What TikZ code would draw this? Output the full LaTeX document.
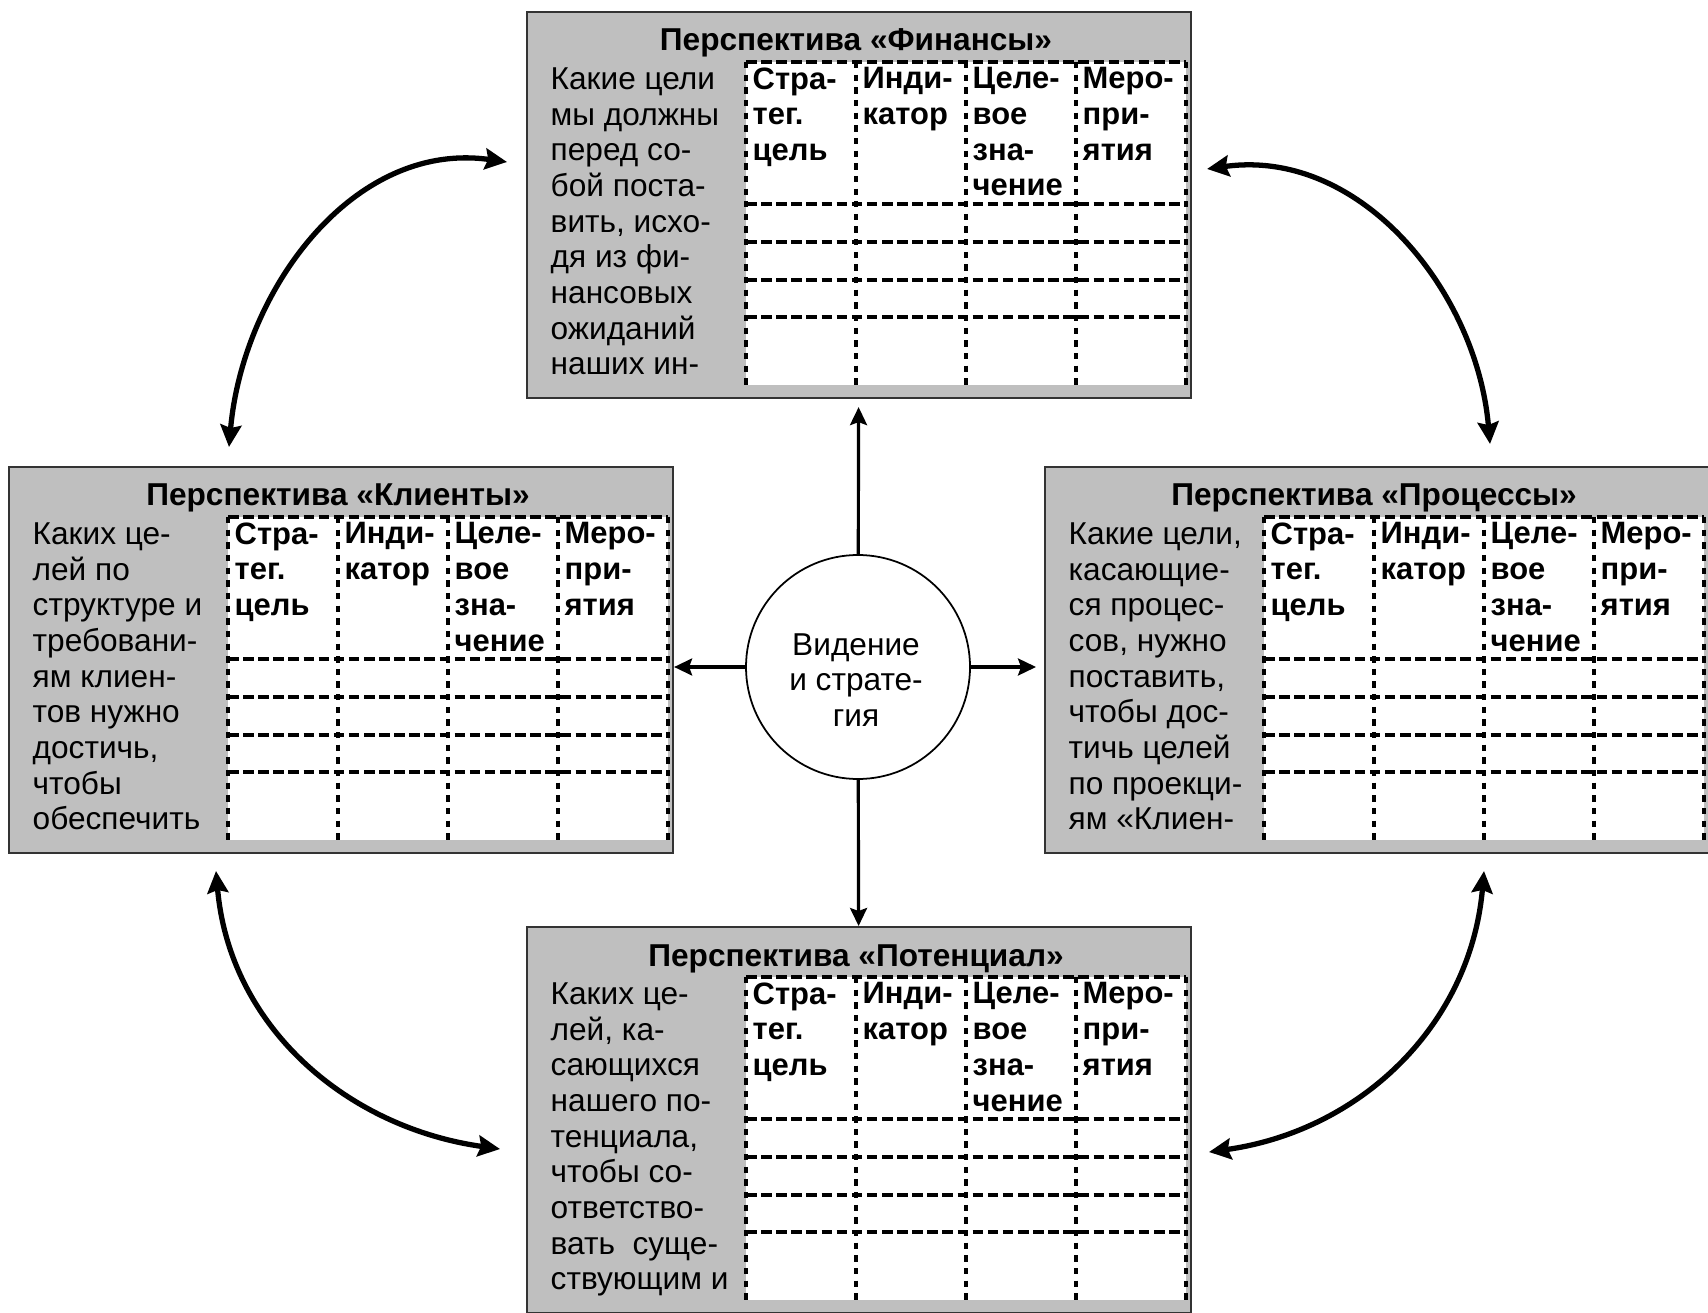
\documentclass[tikz,border=0pt]{standalone}
\usepackage{fontspec}
\setmainfont{Liberation Sans}
\usetikzlibrary{arrows.meta,calc}

\newcommand{\boxfont}{\fontsize{9}{10.15}\selectfont}

\tikzset{
	panel/.style={rectangle, draw=black!80, line width=0.6pt, fill=black!25, inner sep=0pt, minimum width=66.4mm, minimum height=38.6mm, anchor=north west},
	paneltitle/.style={anchor=base, font=\boxfont\bfseries, inner sep=0pt},
	paneltext/.style={anchor=north west, align=left, font=\boxfont, inner sep=0pt},
	colhead/.style={anchor=north west, align=left, font=\fontsize{8.8}{10.15}\selectfont\bfseries, inner sep=0pt},
	gridrow/.style={line width=1.1pt, dash pattern=on 3pt off 1.3pt},
	gridcol/.style={line width=1.1pt, dash pattern=on 1.8pt off 1.8pt},
	vision/.style={circle, draw, line width=0.5pt, fill=white, minimum size=22.4mm, inner sep=0pt},
	visiontext/.style={align=center, font=\boxfont, inner sep=0pt},
	spoke/.style={-{Stealth[length=1.8mm,width=1.7mm,inset=0.3mm]}, line width=0.9pt},
	link/.style={{Stealth[length=2.2mm,width=2.1mm,inset=0.3mm]}-{Stealth[length=2.2mm,width=2.1mm,inset=0.3mm]}, line width=1.5pt}
}

% one perspective: name, left, top, title, question
\newcommand{\perspective}[5]{%
	\begin{scope}[shift={(#2,-#3)}]
		\node at (0,0) [panel] (#1) {};
		\node at (330,-40) [paneltitle] {Перспектива «#4»};
		\node at (24,-56) [paneltext] {#5};
		\fill[white] (220,-51) rectangle (660,-374);
		\foreach \y in {51,193,231,269,306}
			\draw[gridrow] (220,-\y) -- (660,-\y);
		\foreach \x in {220,330,440,550,660}
			\draw[gridcol] (\x,-51) -- (\x,-374);
		\foreach \x/\t in {226/{Стра-\\тег.\\цель}, 336/{Инди-\\катор}, 446/{Целе-\\вое\\зна-\\чение}, 556/{Меро-\\при-\\ятия}}
			\node at (\x,-56) [colhead] {\t};
	\end{scope}}

\begin{document}
\begin{tikzpicture}[x=0.1mm, y=0.1mm]
		\useasboundingbox (0,0) rectangle (1708,-1313);
		\perspective{fin}{526}{11}{Финансы}{Какие цели\\мы должны\\перед со-\\бой поста-\\вить, исхо-\\дя из фи-\\нансовых\\ожиданий\\наших ин-}
		\perspective{kli}{8}{466}{Клиенты}{Каких це-\\лей по\\структуре и\\требовани-\\ям клиен-\\тов нужно\\достичь,\\чтобы\\обеспечить}
		\perspective{pro}{1044}{466}{Процессы}{Какие цели,\\касающие-\\ся процес-\\сов, нужно\\поставить,\\чтобы дос-\\тичь целей\\по проекци-\\ям «Клиен-}
		\perspective{pot}{526}{926}{Потенциал}{Каких це-\\лей, ка-\\сающихся\\нашего по-\\тенциала,\\чтобы со-\\ответство-\\вать~~суще-\\ствующим и}

		\node at (858,-667) [vision] (vis) {};
		\node at (856,-680) [visiontext] (vistext) {Видение\\и страте-\\гия};
		\draw[spoke, shorten >=0.8mm] (vis) -- (fin);
		\draw[spoke] (vis) -- (pot);
		\draw[spoke] (vis.west) -- (vis.west -| kli.east);
		\draw[spoke, shorten >=0.8mm] (vis.east) -- (vis.east -| pro.west);

		% feedback arcs between the perspectives
		\coordinate (fin-w) at (507,-162);
		\coordinate (fin-e) at (1207,-169);
		\coordinate (kli-n) at (229,-447);
		\coordinate (kli-s) at (216,-871);
		\coordinate (pro-n) at (1490,-444);
		\coordinate (pro-s) at (1484,-871);
		\coordinate (pot-w) at (500,-1149);
		\coordinate (pot-e) at (1209,-1152);
		\draw[link] (kli-n) to[out=85, in=172] (fin-w);
		\draw[link] (fin-e) to[out=8, in=95] (pro-n);
		\draw[link] (kli-s) to[out=-85, in=172] (pot-w);
		\draw[link] (pro-s) to[out=-95, in=8] (pot-e);
\end{tikzpicture}
\end{document}
